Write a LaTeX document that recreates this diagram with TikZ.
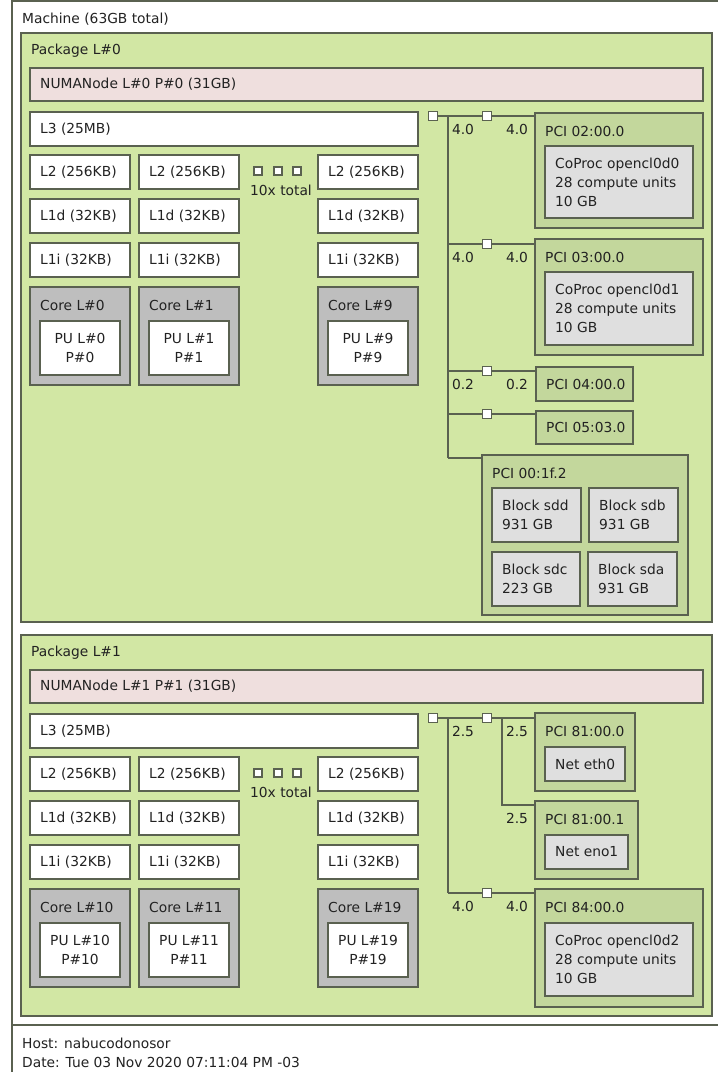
\documentclass[tikz,border=0pt]{standalone}
\usepackage{fontspec}
\setmainfont{DejaVu Sans}
\definecolor{topogreen}{HTML}{D2E7A4}
\definecolor{topopci}{HTML}{C3D79C}
\definecolor{toponuma}{HTML}{EFDFDE}
\definecolor{topocore}{HTML}{BEBEBE}
\definecolor{topodev}{HTML}{DFDFDF}
\definecolor{topoline}{HTML}{5A6150}
\definecolor{topotext}{HTML}{222222}

\begin{document}
\begin{tikzpicture}[
    x=1pt, y=-1pt,
    font=\fontsize{13.8}{19}\selectfont,
    text=topotext,
    obj/.style={
      draw=topoline,
      line width=1.4pt,
      anchor=north west,
      inner sep=0pt,
      outer sep=0pt
    },
    txt/.style={anchor=west, inner sep=0pt, xshift=10pt, align=left},
    hd/.style={anchor=west, inner sep=0pt, xshift=10pt, yshift=-18pt},
    pkg/.style={obj, fill=topogreen, minimum width=691},
    numa/.style={obj, fill=toponuma, minimum width=673, minimum height=33},
    cache/.style={obj, fill=white, minimum width=100, minimum height=34},
    corebox/.style={obj, fill=topocore, minimum width=100, minimum height=98},
    pu/.style={obj, fill=white, minimum width=80, minimum height=54, align=center},
    pcidev/.style={obj, fill=topopci},
    osdev/.style={obj, fill=topodev},
    bridge/.style={draw=topoline, line width=1.4pt, fill=white, minimum size=9, inner sep=0pt},
    dotbox/.style={draw=topoline, line width=1.2pt, fill=white, minimum size=8, inner sep=0pt},
    speed/.style={inner sep=0pt},
    link/.style={draw=topoline, line width=1.4pt}
  ]

  \useasboundingbox (0,0) rectangle (718,1072);

  \node[obj, fill=white, minimum width=708, minimum height=1024,
        label={[hd]north west:Machine (63GB total)}] (machine) at (12,1) {};
  \node[obj, fill=white, minimum width=708, minimum height=50] (legend) at (12,1025) {};
  \node[anchor=west, inner sep=0pt] (host) at (22,1043) {Host: nabucodonosor};
  \node[anchor=west, inner sep=0pt] (date) at (22,1062) {Date: Tue 03 Nov 2020 07:11:04 PM -03};

  \foreach \pk/\dy/\ph/\ca/\cb/\cc in {0/0/589/0/1/9, 1/602/381/10/11/19}{
    \node[pkg, minimum height=\ph, label={[hd]north west:Package L\#\pk}] (pkg\pk) at (21,33+\dy) {};
    \node[numa, label={[txt]west:NUMANode L\#\pk\ P\#\pk\ (31GB)}] (numa\pk) at (30,68+\dy) {};
    \node[cache, minimum width=388, label={[txt]west:L3 (25MB)}] (lthree\pk) at (30,112+\dy) {};
    \foreach \cx/\cn/\cid in {30/\ca/a, 139/\cb/b, 318/\cc/c}{
      \node[cache, label={[txt]west:L2 (256KB)}] (ltwo\pk\cid) at (\cx,155+\dy) {};
      \node[cache, label={[txt]west:L1d (32KB)}] (loned\pk\cid) at (\cx,199+\dy) {};
      \node[cache, label={[txt]west:L1i (32KB)}] (lonei\pk\cid) at (\cx,243+\dy) {};
      \node[corebox, label={[hd]north west:Core L\#\cn}] (core\pk\cid) at (\cx,287+\dy) {};
      \node[pu] (pu\pk\cid) at (\cx+10,321+\dy) {PU L\#\cn\\P\#\cn};
    }
    \node[dotbox] (dots\pk a) at (258,171+\dy) {};
    \node[dotbox] (dots\pk b) at (278,171+\dy) {};
    \node[dotbox] (dots\pk c) at (297,171+\dy) {};
    \node[speed] (total\pk) at (281,190+\dy) {10x total};
  }

  \node[bridge] (hb0) at (433,116) {};
  \node[bridge] (brA) at (487,116) {};
  \node[bridge] (brB) at (487,244) {};
  \node[bridge] (brC) at (487,371) {};
  \node[bridge] (brD) at (487,414) {};
  \coordinate (bus0) at (448,116);
  \coordinate (bus0end) at (448,458);

  \node[pcidev, minimum width=168, minimum height=115, label={[hd]north west:{PCI 02:00.0}}] (pci02) at (535,113) {};
  \node[osdev, minimum width=148, minimum height=72,
        label={[txt]west:{CoProc opencl0d0\\28 compute units\\10 GB}}] (coproc0) at (545,146) {};
  \node[pcidev, minimum width=168, minimum height=116, label={[hd]north west:{PCI 03:00.0}}] (pci03) at (535,239) {};
  \node[osdev, minimum width=148, minimum height=73,
        label={[txt]west:{CoProc opencl0d1\\28 compute units\\10 GB}}] (coproc1) at (545,272) {};
  \node[pcidev, minimum width=97, minimum height=34, label={[txt]west:{PCI 04:00.0}}] (pci04) at (536,367) {};
  \node[pcidev, minimum width=97, minimum height=33, label={[txt]west:{PCI 05:03.0}}] (pci05) at (536,411) {};
  \node[pcidev, minimum width=206, minimum height=160, label={[hd]north west:{PCI 00:1f.2}}] (pci1f) at (482,455) {};
  \node[osdev, minimum width=89, minimum height=54, label={[txt]west:{Block sdd\\931 GB}}] (sdd) at (492,488) {};
  \node[osdev, minimum width=89, minimum height=54, label={[txt]west:{Block sdb\\931 GB}}] (sdb) at (589,488) {};
  \node[osdev, minimum width=88, minimum height=54, label={[txt]west:{Block sdc\\223 GB}}] (sdc) at (492,552) {};
  \node[osdev, minimum width=89, minimum height=54, label={[txt]west:{Block sda\\931 GB}}] (sda) at (588,552) {};

  \node[speed] (spA1) at (463,129) {4.0};
  \node[speed] (spA2) at (517,129) {4.0};
  \node[speed] (spB1) at (463,257) {4.0};
  \node[speed] (spB2) at (517,257) {4.0};
  \node[speed] (spC1) at (463,384) {0.2};
  \node[speed] (spC2) at (517,384) {0.2};

  \draw[link] (hb0.east) -- (brA.west);
  \draw[link] (brA.east) -- (pci02.west |- brA);
  \draw[link] (bus0) -- (bus0end);
  \draw[link] (bus0 |- brB) -- (brB.west);
  \draw[link] (brB.east) -- (pci03.west |- brB);
  \draw[link] (bus0 |- brC) -- (brC.west);
  \draw[link] (brC.east) -- (pci04.west |- brC);
  \draw[link] (bus0 |- brD) -- (brD.west);
  \draw[link] (brD.east) -- (pci05.west |- brD);
  \draw[link] (bus0end) -- (pci1f.west |- bus0end);

  \node[bridge] (hb1) at (433,718) {};
  \node[bridge] (brE) at (487,718) {};
  \node[bridge] (brF) at (487,893) {};
  \coordinate (bus1) at (448,718);
  \coordinate (bus1end) at (448,893);
  \coordinate (bus2) at (502,718);
  \coordinate (bus2end) at (502,805);

  \node[pcidev, minimum width=100, minimum height=78, label={[hd]north west:{PCI 81:00.0}}] (pci81a) at (535,713) {};
  \node[osdev, minimum width=80, minimum height=34, label={[txt]west:Net eth0}] (eth0) at (545,747) {};
  \node[pcidev, minimum width=103, minimum height=78, label={[hd]north west:{PCI 81:00.1}}] (pci81b) at (535,801) {};
  \node[osdev, minimum width=83, minimum height=34, label={[txt]west:Net eno1}] (eno1) at (545,835) {};
  \node[pcidev, minimum width=168, minimum height=118, label={[hd]north west:{PCI 84:00.0}}] (pci84) at (535,889) {};
  \node[osdev, minimum width=148, minimum height=73,
        label={[txt]west:{CoProc opencl0d2\\28 compute units\\10 GB}}] (coproc2) at (545,923) {};

  \node[speed] (spE1) at (463,731) {2.5};
  \node[speed] (spE2) at (517,731) {2.5};
  \node[speed] (spE3) at (517,818) {2.5};
  \node[speed] (spF1) at (463,906) {4.0};
  \node[speed] (spF2) at (517,906) {4.0};

  \draw[link] (hb1.east) -- (brE.west);
  \draw[link] (brE.east) -- (pci81a.west |- brE);
  \draw[link] (bus1) -- (bus1end);
  \draw[link] (bus2) -- (bus2end) -- (pci81b.west |- bus2end);
  \draw[link] (bus1end) -- (brF.west);
  \draw[link] (brF.east) -- (pci84.west |- brF);

\end{tikzpicture}
\end{document}
